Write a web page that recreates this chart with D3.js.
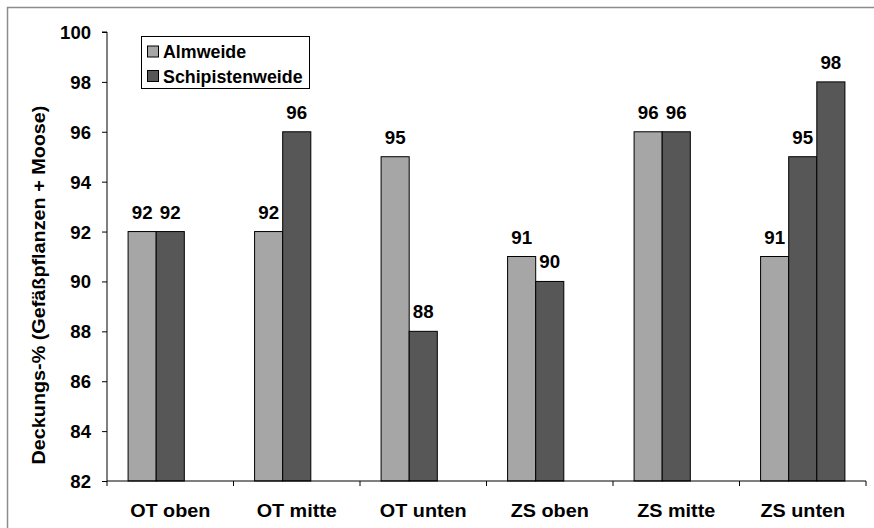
<!DOCTYPE html>
<html>
<head>
<meta charset="utf-8">
<script src="https://cdn.jsdelivr.net/npm/d3@7/dist/d3.min.js"></script>
<style>
  html, body { margin: 0; padding: 0; background: #fff; }
  svg text { font-family: "Liberation Sans", Arial, sans-serif; font-weight: bold; fill: #000; }
</style>
</head>
<body>
<svg id="chart" width="874" height="528"></svg>
<script>
const categories = ["OT oben", "OT mitte", "OT unten", "ZS oben", "ZS mitte", "ZS unten"];
const almweide = [92, 92, 95, 91, 96, 91];
const schipistenweide = [92, 96, 88, 90, 96, 95];
const schipistenweide2 = [null, null, null, null, null, 98];
const seriesNames = ["Almweide", "Schipistenweide", "Schipistenweide 2"];
const seriesColors = ["#a6a6a6", "#575757", "#575757"];
const legendSeries = ["Almweide", "Schipistenweide"];
const yTicks = [82, 84, 86, 88, 90, 92, 94, 96, 98, 100];

const seriesValues = [almweide, schipistenweide, schipistenweide2];

const svg = d3.select("#chart");
const fs = 18;

// widen glyphs horizontally (in text's own direction) about its anchor point
function stretch(sel, s, extra) {
  sel.each(function() {
    const t = d3.select(this);
    const tx = +t.attr("x") || 0, ty = +t.attr("y") || 0;
    t.attr("x", 0).attr("y", 0)
     .attr("transform", `translate(${tx},${ty})${extra || ""} scale(${s},1)`);
  });
}

// outer frame
svg.append("rect").attr("x", 7.5).attr("y", 7.5).attr("width", 900).attr("height", 600)
  .attr("fill", "none").attr("stroke", "#8c8c8c").attr("stroke-width", 1.5);

const pLeft = 107, pRight = 866, pTop = 32, pBottom = 481;

const y = d3.scaleLinear().domain([82, 100]).range([pBottom, pTop]);
const x = d3.scaleBand().domain(categories).range([pLeft, pRight]).paddingInner(1/3).paddingOuter(1/6);
const xs = d3.scaleBand().domain(seriesNames).range([0, x.bandwidth()]).padding(0);
const step = x.step();

// bars
const barData = [];
categories.forEach((c, i) => {
  seriesNames.forEach((s, j) => {
    const v = seriesValues[j][i];
    if (v !== null) barData.push({c, s, v, j});
  });
});

svg.append("g").selectAll("rect").data(barData).join("rect")
  .attr("x", d => x(d.c) + xs(d.s))
  .attr("y", d => y(d.v))
  .attr("width", xs.bandwidth())
  .attr("height", d => y(82) - y(d.v))
  .attr("fill", d => seriesColors[d.j])
  .attr("stroke", "#000").attr("stroke-width", 1);

// value labels
const vl = svg.append("g").selectAll("text").data(barData).join("text")
  .attr("x", d => x(d.c) + xs(d.s) + xs.bandwidth() / 2)
  .attr("y", d => y(d.v) - 13)
  .attr("text-anchor", "middle")
  .attr("font-size", fs)
  .text(d => d.v);
stretch(vl, 1.04);

// y axis
const yAxis = d3.axisLeft(y).tickValues(yTicks).tickSize(5).tickPadding(11);
const gy = svg.append("g").attr("transform", `translate(${pLeft},0)`).call(yAxis);
gy.select(".domain").attr("stroke", "#000").attr("d", `M-5,${pTop}H0V${pBottom}`);
gy.selectAll(".tick line").attr("stroke", "#000");
gy.selectAll(".tick text").attr("font-size", fs).attr("font-family", null).attr("dy", "0.36em");
stretch(gy.selectAll(".tick text"), 1.03);

// x axis
svg.append("line").attr("x1", pLeft).attr("x2", pRight).attr("y1", pBottom).attr("y2", pBottom)
  .attr("stroke", "#000");
const bounds = d3.range(categories.length + 1).map(i => pLeft + i * step);
svg.append("g").selectAll("line").data(bounds).join("line")
  .attr("x1", d => d).attr("x2", d => d).attr("y1", pBottom).attr("y2", pBottom + 5)
  .attr("stroke", "#000");
const cl = svg.append("g").selectAll("text").data(categories).join("text")
  .attr("x", d => x(d) + x.bandwidth() / 2)
  .attr("y", 517)
  .attr("text-anchor", "middle")
  .attr("font-size", fs)
  .text(d => d);
stretch(cl, 1.1);

// y title
const yt = svg.append("text")
  .attr("x", 45).attr("y", 285)
  .attr("text-anchor", "middle")
  .attr("font-size", fs)
  .text("Deckungs-% (Gefäßpflanzen + Moose)");
stretch(yt, 1.1, " rotate(-90)");

// legend
const lg = svg.append("g");
lg.append("rect").attr("x", 141.5).attr("y", 36.5).attr("width", 168).attr("height", 52)
  .attr("fill", "#fff").attr("stroke", "#000").attr("stroke-width", 1);
legendSeries.forEach((s, i) => {
  const cy = 51.5 + i * 24.5;
  lg.append("rect").attr("x", 147.5).attr("y", cy - 5.5).attr("width", 11).attr("height", 11)
    .attr("fill", seriesColors[seriesNames.indexOf(s)]).attr("stroke", "#000");
  const t = lg.append("text").attr("x", 163).attr("y", cy + 6.5).attr("font-size", fs).text(s);
  stretch(t, 0.99);
});
</script>
</body>
</html>
